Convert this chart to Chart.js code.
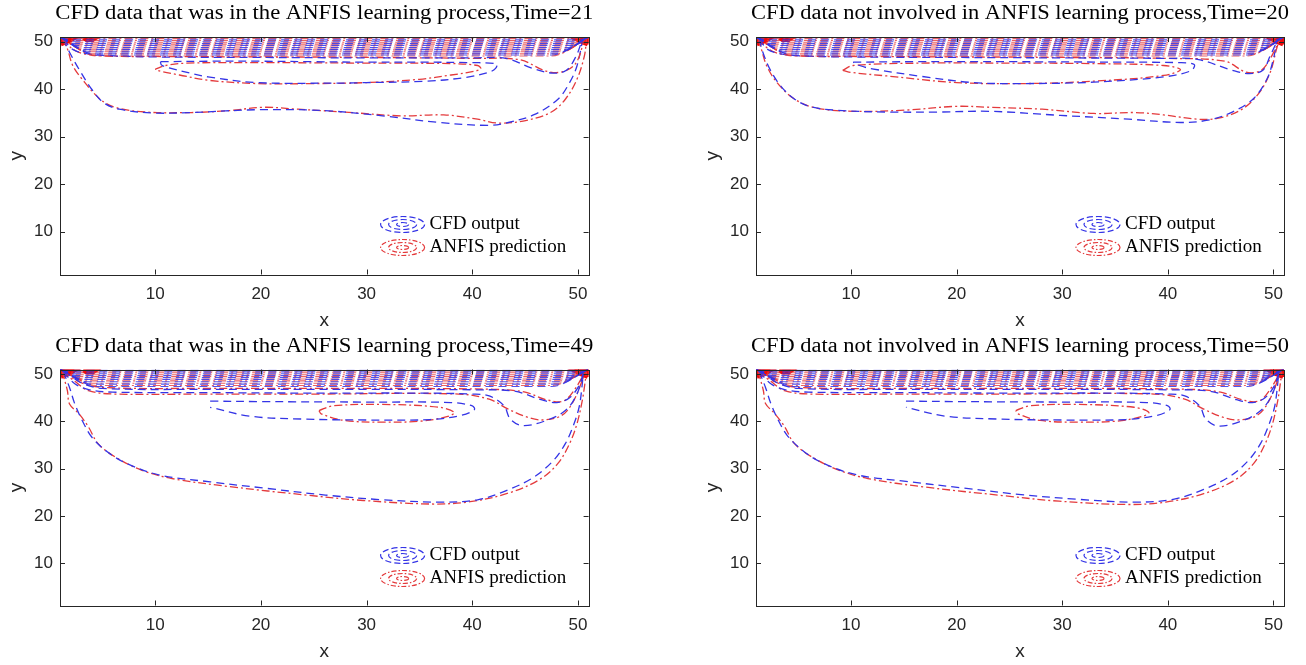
<!DOCTYPE html>
<html>
<head>
<meta charset="utf-8">
<script src="https://cdn.jsdelivr.net/npm/chart.js@4.4.1/dist/chart.umd.min.js"></script>
<style>
  body { margin: 0; background: #fff; width: 1306px; height: 665px; overflow: hidden; position: relative; }
  canvas { position: absolute; }
</style>
</head>
<body>
<canvas id="c1" width="653" height="332" style="left:0;top:0"></canvas>
<canvas id="c2" width="653" height="332" style="left:653px;top:0"></canvas>
<canvas id="c3" width="653" height="333" style="left:0;top:332px"></canvas>
<canvas id="c4" width="653" height="333" style="left:653px;top:332px"></canvas>
<script>
// tick labels
const xTicks = [10, 20, 30, 40, 50];
const yTicks = [10, 20, 30, 40, 50];
const seriesNames = ['CFD output', 'ANFIS prediction'];
const titles = [
  'CFD data that was in the ANFIS learning process,Time=21',
  'CFD data not involved in ANFIS learning process,Time=20',
  'CFD data that was in the ANFIS learning process,Time=49',
  'CFD data not involved in ANFIS learning process,Time=50'
];

// top band contour levels (y) with where they leave the corners (x)
const bandBlueA = [47.2, 47.6, 48.0, 48.4, 48.8, 49.2, 49.6, 50.0, 50.4, 50.85];
const bandRedA = [47.0, 47.45, 47.9, 48.3, 48.7, 49.1, 49.5, 49.9, 50.3, 50.7];
const bandBlueB = [47.4, 47.9, 48.4, 48.9, 49.3, 49.7, 50.1, 50.5, 50.85];
const bandRedB = [47.6, 48.1, 48.6, 49.0, 49.5, 49.9, 50.3, 50.7];
const bandStartX = [4.5, 4.0, 3.6, 3.2, 2.9, 2.6, 2.3, 2.0, 1.8, 1.5];
const bandEndX = [47.5, 48.0, 48.4, 48.8, 49.1, 49.4, 49.7, 50.0, 50.2, 50.5];

// tight corner loops
const cornerRed = [
  [[1.1, 49.4], [1.8, 50.0], [2.4, 50.75], [1.1, 50.75]],
  [[1.1, 49.9], [1.5, 50.3], [1.8, 50.7], [1.1, 50.7]],
  [[3.2, 50.75], [3.5, 50.3], [4.1, 50.3], [4.4, 50.75]],
  [[50.9, 49.4], [50.2, 50.0], [49.6, 50.75], [50.9, 50.75]],
  [[50.9, 49.9], [50.5, 50.3], [50.2, 50.7], [50.9, 50.7]]
];
const cornerBlue = [
  [[1.8, 50.8], [2.1, 50.3], [2.4, 50.8]],
  [[50.2, 50.8], [50.5, 50.3], [50.8, 50.8]]
];

// Time=21
const p1BlueOuter = [[1.3,50.6],[1.9,47.8],[2.8,44.2],[4.0,40.0],[5.1,37.2],[6.6,35.8],[9.8,35.0],[13.4,35.1],[19.9,35.7],[26,35.5],[31.5,34.4],[36.9,33.0],[41.6,32.4],[43.4,33.0],[45.9,34.7],[48.1,37.9],[49.2,41.4],[49.9,44.9],[50.4,49.9]];
const p1RedOuter = [[1.2,50.6],[1.7,48.5],[2.2,45],[3.1,42.1],[4.8,37.9],[6.2,36.2],[9.1,35.2],[13.4,35.1],[17,35.5],[20.2,36.2],[23.5,35.8],[27.9,35.2],[33.3,34.4],[37.3,34.6],[40.5,33.7],[42.3,32.9],[44.8,33.3],[47.4,35.1],[48.8,37.9],[49.9,42.1],[50.6,47],[50.8,50.5]];
const p1BlueInner = [[10.5,45.8],[15,45.9],[20,45.9],[25,45.8],[30,45.7],[35,45.7],[40,45.6],[42.3,45.3],[42.2,44.4],[41.6,43.6],[39.4,42.5],[35.7,41.7],[30,41.4],[27.5,41.3],[19.6,41.4],[15,42.6],[13.3,43.4],[11.5,44.4],[10.6,45.1]];
const p1RedInner = [[10,44.2],[11,45],[13,45.5],[20,45.6],[30,45.5],[37.9,45.4],[40.5,45.0],[40.8,44.3],[40.2,43.8],[38,43],[35,42.1],[30,41.4],[25,41.2],[19.6,41.2],[15,41.9],[12.3,43],[10.5,43.8]];
const p1BlueDip = [[1.3,50.6],[2.2,48.4],[3.5,47.5],[5.4,47.1],[10,46.8],[20,46.7],[30,46.6],[40,46.6],[43.2,46.5],[45.7,44.4],[47.6,43.4],[48.9,44.0],[49.8,46.9],[50.4,50.4]];
const p1RedDip = [[1.2,50.6],[2.0,48.8],[3.0,47.6],[5.4,47.0],[10,46.9],[20,46.8],[30,46.7],[40,46.5],[44.5,46.2],[47,43.8],[48.6,43.7],[49.8,45.5],[50.6,50.4]];

// Time=20
const p2BlueOuter = [[1.3,50.6],[1.65,47.8],[2.3,44.3],[3.3,40.8],[4.6,38],[6.2,36.3],[8.5,35.6],[13.4,35.2],[18.3,35.2],[23.2,35.35],[29.8,34.5],[36.3,33.7],[41.2,33.0],[43.8,33.5],[46.1,35.2],[48.1,38],[49.4,42.2],[50,46.4],[50.3,50]];
const p2RedOuter = [[1.2,50.6],[1.5,48.5],[2,45],[2.96,41.5],[4.6,38],[6.6,36.1],[10.2,35.35],[15.1,35.6],[19.95,36.4],[23.2,36.2],[28.1,35.8],[33,34.9],[36.9,35.1],[39.6,34.6],[42.8,33.7],[44.8,33.9],[47.1,35.9],[48.7,39.4],[49.7,43.6],[50.3,48.5],[50.6,50.6]];
const p2BlueInner = [[10.2,45.7],[16,45.8],[25,45.8],[35,45.7],[41,45.6],[42.5,45.2],[42.2,43.9],[39.6,42.6],[33,41.5],[26.5,41.2],[21.6,41.4],[16.7,42.7],[12,44.3],[10.8,45]];
const p2RedInner = [[9.2,44],[10.2,45],[16.7,45.5],[25,45.5],[33,45.4],[39.6,45],[41.2,44.1],[39.6,42.9],[33,41.7],[26.5,41.2],[20,41.4],[13.4,42.8],[9.8,43.6]];
const p2BlueDip = [[1.3,50.6],[2.1,48.4],[3.5,47.4],[5.5,47.0],[10,46.8],[20,46.7],[30,46.6],[40,46.5],[42.8,46.3],[46.1,44.0],[47.7,43.3],[49,44],[49.7,47.1],[50.4,50.4]];
const p2RedDip = [[1.2,50.6],[2,48.8],[3,47.6],[5.4,47],[10,46.9],[20,46.8],[30,46.7],[40,46.5],[45.4,45.9],[47.4,43.6],[48.7,43.8],[49.5,45.7],[50.6,50.4]];

// Time=49
const p3BlueOuter = [[1.3,50.6],[1.9,47.2],[2.4,43.7],[3.1,40.2],[4.0,36.7],[5.5,33.5],[7.3,31.1],[10.5,28.6],[15.2,27.2],[20.6,25.8],[26.1,24.4],[31.5,23.4],[36.9,22.9],[40.5,23.4],[43.4,25.5],[45.9,28.3],[47.7,31.8],[48.8,35.3],[49.5,38.8],[50.1,43],[50.4,47.9],[50.5,50.5]];
const p3RedOuter = [[1.2,50.6],[1.7,46.5],[1.9,43.7],[2.8,41.6],[3.7,38.8],[4.6,35.3],[6.2,32.5],[8.7,29.7],[11.6,27.9],[17,26.2],[24.3,24.4],[29.7,23.25],[36.2,22.5],[39.8,23],[43.4,24.8],[46.3,27.6],[48.1,31.1],[49.2,35.3],[49.9,39.5],[50.4,44.4],[50.6,47.2],[50.8,50.5]];
const p3BlueInner = [[15.2,44.3],[20,44.2],[30,44.1],[38,44.0],[40,43.3],[40.2,42.5],[39,41.3],[36,40.4],[30,40.3],[24,40.5],[19,41.1],[15.2,43.0]];
const p3RedInner = [[25.5,42.3],[26.8,43.3],[31.5,43.6],[36.9,43],[38.3,41.9],[37.6,41],[35.1,40.05],[31.5,39.85],[27.9,40.2],[25.7,41.6]];
const p3BlueDip = [[1.3,50.6],[2.4,48],[3.8,46.7],[6,46.2],[15,46.1],[25,46.0],[35,46.0],[40,45.8],[41.6,45.4],[43,43.3],[43.6,40.5],[44.8,39.1],[47,40.2],[48.8,42.3],[49.9,45.8],[50.5,50.4]];
const p3RedDip = [[1.2,50.6],[2.4,48.5],[3.7,46.5],[6.2,45.8],[15,45.8],[25,45.8],[38.7,45.8],[41.6,44.7],[43.4,42.6],[45.2,40.9],[46.6,40.3],[48.4,41.2],[49.5,44],[50.7,50.4]];
const p3BlueDip2 = [[1.4,50.7],[3,48.2],[5,47],[15,46.8],[30,46.8],[40,46.7],[44,46.4],[46.5,44.6],[48,44],[49.2,45],[50.2,48],[50.6,50.6]];
const p3RedDip2 = [[1.3,50.7],[2.8,48.4],[5,47.2],[15,47],[30,47],[42,46.8],[45,46.2],[47,44.6],[48.6,44.3],[49.6,46.5],[50.7,50.6]];

// Time=50
const p4BlueOuter = [[1.3,50.6],[1.9,47.2],[2.4,43.8],[3.1,40.3],[4.0,36.9],[5.5,33.7],[7.3,31.2],[10.5,28.7],[15.2,27.3],[20.6,25.9],[26.1,24.5],[31.5,23.5],[36.9,22.9],[40.5,23.5],[43.4,25.6],[45.9,28.4],[47.7,31.9],[48.8,35.4],[49.5,38.9],[50.1,43],[50.4,47.9],[50.5,50.5]];
const p4RedOuter = [[1.2,50.6],[1.7,46.5],[1.9,43.8],[2.8,41.6],[3.7,38.9],[4.6,35.4],[6.2,32.6],[8.7,29.8],[11.6,27.9],[17,26.1],[24.3,24.3],[29.7,23.1],[36.2,22.4],[39.8,22.9],[43.4,24.7],[46.3,27.5],[48.1,31.0],[49.2,35.2],[49.9,39.4],[50.4,44.3],[50.6,47.2],[50.8,50.5]];
const p4BlueInner = [[15.2,44.3],[20,44.2],[30,44.1],[38,44.0],[40,43.3],[40.2,42.5],[39,41.3],[36,40.4],[30,40.3],[24,40.5],[19,41.1],[15.2,43.0]];
const p4RedInner = [[25.6,42.3],[26.9,43.3],[31.5,43.6],[36.8,43],[38.2,41.9],[37.5,41],[35.1,40.05],[31.5,39.85],[27.9,40.2],[25.8,41.6]];
const p4BlueDip = [[1.3,50.6],[2.4,48],[3.8,46.7],[6,46.2],[15,46.1],[25,46.0],[35,46.0],[40,45.8],[41.6,45.4],[43,43.3],[43.6,40.5],[44.8,39.0],[47,40.1],[48.8,42.3],[49.9,45.8],[50.5,50.4]];
const p4RedDip = [[1.2,50.6],[2.4,48.5],[3.7,46.5],[6.2,45.8],[15,45.8],[25,45.8],[38.7,45.8],[41.6,44.7],[43.4,42.6],[45.2,40.9],[46.6,40.3],[48.4,41.2],[49.5,44],[50.7,50.4]];
const p4BlueDip2 = [[1.4,50.7],[3,48.2],[5,47],[15,46.8],[30,46.8],[40,46.7],[44,46.4],[46.5,44.6],[48,44],[49.2,45],[50.2,48],[50.6,50.6]];
const p4RedDip2 = [[1.3,50.7],[2.8,48.4],[5,47.2],[15,47],[30,47],[42,46.8],[45,46.2],[47,44.6],[48.6,44.3],[49.6,46.5],[50.7,50.6]];

const BLUE = '#3434e6';
const RED = '#e43a3c';
const BLUE_DASH = [8, 5];
const RED_DASH = [8, 3, 2, 3];

function contour(pts, blue, closed, width) {
  const data = pts.map(p => ({ x: p[0], y: p[1] }));
  if (closed) data.push({ x: pts[0][0], y: pts[0][1] });
  return {
    data,
    showLine: true,
    borderColor: blue ? BLUE : RED,
    borderDash: blue ? BLUE_DASH : RED_DASH,
    borderWidth: width || 1.3,
    pointRadius: 0,
    tension: 0.35,
    fill: false
  };
}

function band(levels, blue) {
  return levels.map((lev, i) => {
    const ds = contour([[1.05, 50.95], [bandStartX[i], lev], [bandEndX[i], lev], [50.95, 50.95]], blue, false, 1.1);
    ds.cubicInterpolationMode = 'monotone';
    ds.borderColor = blue ? 'rgba(52,52,230,0.85)' : 'rgba(228,58,60,0.8)';
    return ds;
  });
}

function corners() {
  return cornerRed.map(c => {
    const ds = contour(c, false, true, 3.5);
    ds.borderDash = [];
    ds.borderColor = '#f00a0a';
    ds.tension = 0;
    return ds;
  }).concat(cornerBlue.map(c => {
    const ds = contour(c, true, false, 2);
    ds.borderDash = [];
    return ds;
  }));
}

function panelSets(blueOuter, redOuter, blueInner, redInner, blueDips, redDips, bandB, bandR, blueInnerClosed) {
  let sets = [];
  sets = sets.concat(band(bandB, true), band(bandR, false));
  blueDips.forEach(d => sets.push(contour(d, true)));
  redDips.forEach(d => sets.push(contour(d, false)));
  sets.push(contour(blueOuter, true), contour(redOuter, false));
  sets.push(contour(blueInner, true, blueInnerClosed), contour(redInner, false, true));
  return sets.concat(corners());
}

const panels = [
  { id: 'c1', area: [60, 37, 588.6, 274.5], title: titles[0],
    sets: panelSets(p1BlueOuter, p1RedOuter, p1BlueInner, p1RedInner, [p1BlueDip], [p1RedDip], bandBlueA, bandRedA, true) },
  { id: 'c2', area: [103, 37, 631, 274.5], title: titles[1],
    sets: panelSets(p2BlueOuter, p2RedOuter, p2BlueInner, p2RedInner, [p2BlueDip], [p2RedDip], bandBlueA, bandRedA, true) },
  { id: 'c3', area: [60, 37.5, 588.6, 273.5], title: titles[2],
    sets: panelSets(p3BlueOuter, p3RedOuter, p3BlueInner, p3RedInner, [p3BlueDip, p3BlueDip2], [p3RedDip, p3RedDip2], bandBlueB, bandRedB, false) },
  { id: 'c4', area: [103, 37.5, 631, 273.5], title: titles[3],
    sets: panelSets(p4BlueOuter, p4RedOuter, p4BlueInner, p4RedInner, [p4BlueDip, p4BlueDip2], [p4RedDip, p4RedDip2], bandBlueB, bandRedB, false) }
];

const AXIS = '#262626';

const framePlugin = {
  id: 'frame',
  afterDraw(chart, args, opts) {
    const { ctx, chartArea: a, scales: { x, y } } = chart;
    ctx.save();
    ctx.strokeStyle = AXIS;
    ctx.lineWidth = 1;
    ctx.setLineDash([]);
    ctx.strokeRect(Math.round(a.left) + 0.5, Math.round(a.top) + 0.5, Math.round(a.right - a.left), Math.round(a.bottom - a.top));
    ctx.beginPath();
    xTicks.forEach(v => {
      const px = Math.round(x.getPixelForValue(v)) + 0.5;
      ctx.moveTo(px, a.bottom); ctx.lineTo(px, a.bottom - 5);
      ctx.moveTo(px, a.top); ctx.lineTo(px, a.top + 5);
    });
    yTicks.forEach(v => {
      const py = Math.round(y.getPixelForValue(v)) + 0.5;
      ctx.moveTo(a.left, py); ctx.lineTo(a.left + 5, py);
      ctx.moveTo(a.right, py); ctx.lineTo(a.right - 5, py);
    });
    ctx.stroke();

    ctx.fillStyle = AXIS;
    ctx.font = '17px "Liberation Sans", Arial, sans-serif';
    ctx.textBaseline = 'middle';
    ctx.textAlign = 'center';
    xTicks.forEach(v => ctx.fillText(String(v), x.getPixelForValue(v), a.bottom + 20));
    ctx.textAlign = 'right';
    yTicks.forEach(v => ctx.fillText(String(v), a.left - 7, y.getPixelForValue(v)));

    ctx.font = '19px "Liberation Sans", Arial, sans-serif';
    ctx.textAlign = 'center';
    ctx.fillText('x', (a.left + a.right) / 2, a.bottom + 46);
    ctx.save();
    ctx.translate(a.left - 43, (a.top + a.bottom) / 2);
    ctx.rotate(-Math.PI / 2);
    ctx.fillText('y', 0, 0);
    ctx.restore();

    // title, fitted to the reference width
    ctx.fillStyle = '#000';
    ctx.font = '20px "Liberation Serif", "Times New Roman", serif';
    const tw = ctx.measureText(opts.title).width;
    ctx.save();
    ctx.translate((a.left + a.right) / 2, a.top - 23);
    ctx.scale(538 / tw, 1);
    ctx.fillText(opts.title, 0, 0);
    ctx.restore();

    // legend with concentric contour icons
    const cx = a.right - 186;
    const rows = [a.bottom - 50, a.bottom - 27];
    const radii = [[22, 8], [14, 5], [6, 2]];
    rows.forEach((cy, i) => {
      ctx.strokeStyle = i === 0 ? BLUE : RED;
      ctx.setLineDash(i === 0 ? [6, 3] : [5, 2, 1.5, 2]);
      ctx.lineWidth = 1.2;
      radii.forEach(r => {
        ctx.beginPath();
        ctx.ellipse(cx, cy, r[0], r[1], 0, 0, Math.PI * 2);
        ctx.stroke();
      });
      ctx.setLineDash([]);
      ctx.fillStyle = '#000';
      ctx.font = '19px "Liberation Serif", "Times New Roman", serif';
      ctx.textAlign = 'left';
      ctx.fillText(seriesNames[i], cx + 27, cy);
    });
    ctx.restore();
  }
};

panels.forEach(p => {
  const cv = document.getElementById(p.id);
  const [l, t, r, b] = p.area;
  new Chart(cv, {
    type: 'scatter',
    data: { datasets: p.sets },
    options: {
      responsive: false,
      animation: false,
      layout: { padding: { left: l, top: t, right: cv.width - r, bottom: cv.height - b } },
      scales: {
        x: { type: 'linear', min: 1, max: 51, display: false },
        y: { type: 'linear', min: 1, max: 51, display: false }
      },
      plugins: { legend: { display: false }, tooltip: { enabled: false }, frame: { title: p.title } }
    },
    plugins: [framePlugin]
  });
});
</script>
</body>
</html>
